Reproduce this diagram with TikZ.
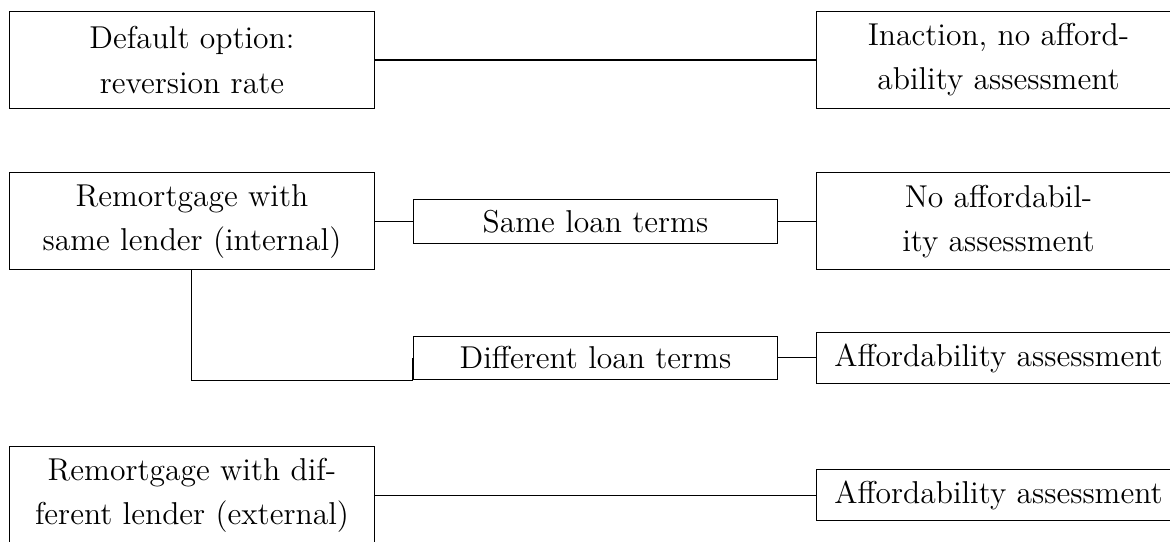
\documentclass[tikz,border=0pt,12pt]{standalone}
\usepackage{amsmath}
\usepackage{xcolor}
\usepackage{tikz}
\usetikzlibrary{positioning}

\begin{document}
\begin{tikzpicture}
% Define styles
\tikzstyle{box} = [rectangle, draw, fill=white, align=center, text centered, minimum width=5.03cm, inner ysep=4.15pt, font=\fontsize{12.4pt}{17.3pt}\selectfont]
\tikzstyle{tallbox} = [box, minimum height=1.34cm]
\useasboundingbox (0,0) rectangle (16.127,-7.457);
% Define nodes
\node[tallbox] (default) at (2.646,-0.827) {Default option:\\reversion rate};
\node[tallbox] (inaction) at (13.763,-0.827) {Inaction, no afford-\\ability assessment};
\node[tallbox] (remort_int) at (2.646,-3.05) {Remortgage with\\same lender (internal)};
\node[box] (same_terms) at (8.208,-3.05) {Same loan terms};
\node[tallbox] (no_afford) at (13.763,-3.05) {No affordabil-\\ity assessment};
\node[box] (diff_terms) at (8.208,-4.934) {Different loan terms};
\node[box] (afford_int) at (13.763,-4.934) {Affordability assessment};
\node[tallbox] (remort_ext) at (2.646,-6.823) {Remortgage with dif-\\ferent lender (external)};
\node[box] (afford_ext) at (13.763,-6.823) {Affordability assessment};
% Connect the nodes
\draw (default) -- (inaction);
\draw (remort_int) -- (same_terms);
\draw (same_terms) -- (no_afford);
\draw (remort_int) |- (diff_terms.south west) -- (diff_terms.west);
\draw (diff_terms) -- (afford_int);
\draw (remort_ext) -- (afford_ext);
\end{tikzpicture}
\end{document}
